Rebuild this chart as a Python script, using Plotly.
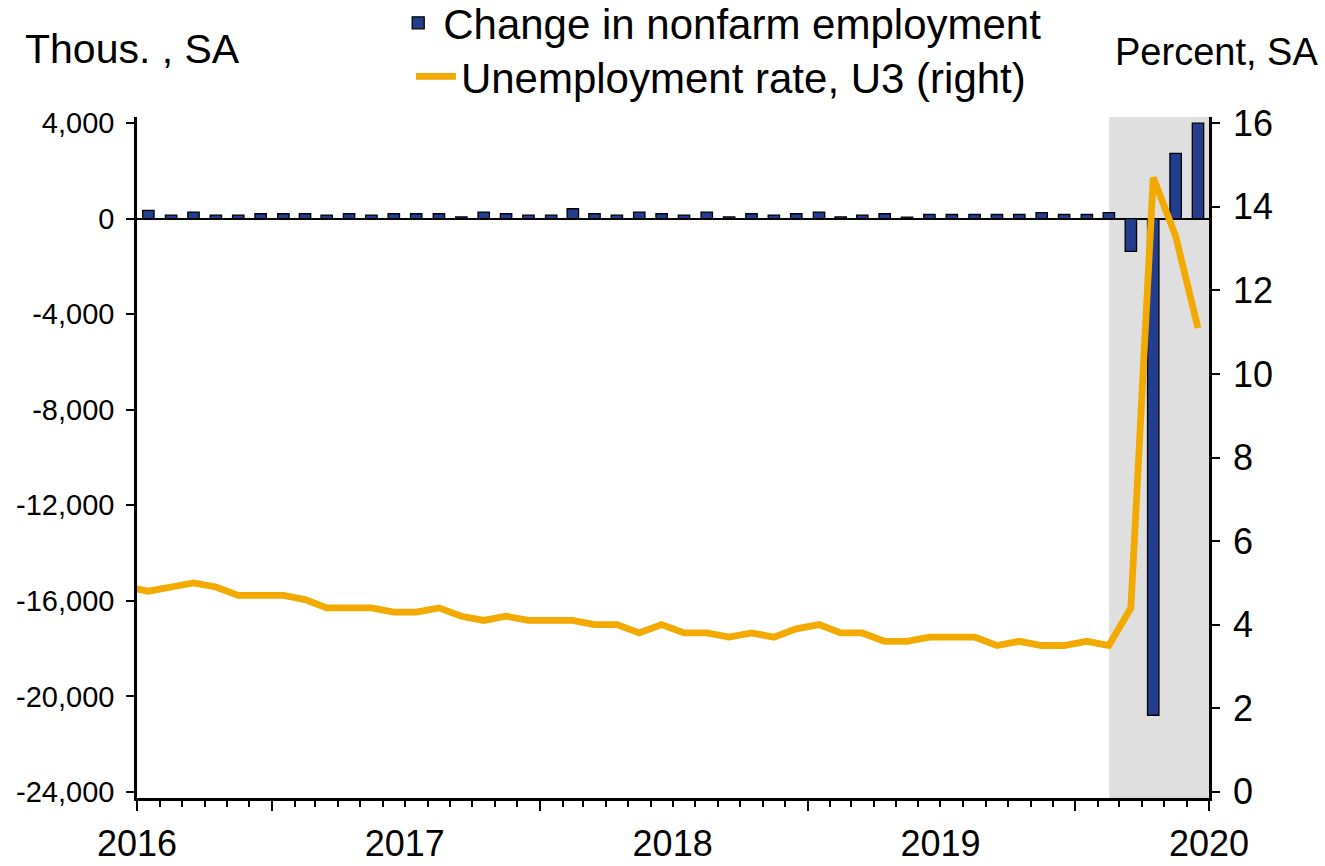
import plotly.graph_objects as go
import pandas as pd

# ---------------- data ----------------
bar_months = [d.strftime("%Y-%m") for d in pd.date_range("2016-07-01", "2020-06-01", freq="MS")]
payroll_change = [340, 145, 270, 145, 145, 200, 200, 200, 145, 200, 145, 200,
                  200, 200, 70, 270, 200, 145, 145, 410, 200, 145, 270, 200,
                  145, 270, 70, 200, 145, 200, 270, 70, 145, 200, 60, 170,
                  170, 170, 170, 170, 250, 170, 170, 250, -1373, -20787, 2725, 3990]

rate_months = [d.strftime("%Y-%m") for d in pd.date_range("2016-06-01", "2020-06-01", freq="MS")]
unemployment_rate = [4.9,
                     4.8, 4.9, 5.0, 4.9, 4.7, 4.7,
                     4.7, 4.6, 4.4, 4.4, 4.4, 4.3, 4.3, 4.4, 4.2, 4.1, 4.2, 4.1,
                     4.1, 4.1, 4.0, 4.0, 3.8, 4.0, 3.8, 3.8, 3.7, 3.8, 3.7, 3.9,
                     4.0, 3.8, 3.8, 3.6, 3.6, 3.7, 3.7, 3.7, 3.5, 3.6, 3.5, 3.5,
                     3.6, 3.5, 4.4, 14.7, 13.3, 11.1]

x_range = ["2016-07-01", "2020-07-01"]
year_label_dates = ["2016-07-01", "2017-07-01", "2018-07-01", "2019-07-01", "2020-07-01"]
year_labels = ["2016", "2017", "2018", "2019", "2020"]
major_tick_dates = ["2016-07-01", "2017-01-01", "2018-01-01", "2019-01-01", "2020-01-01", "2020-07-01"]

left_tick_vals = [-24000, -20000, -16000, -12000, -8000, -4000, 0, 4000]
left_tick_text = ["-24,000", "-20,000", "-16,000", "-12,000", "-8,000", "-4,000", "0", "4,000"]
right_tick_vals = [0, 2, 4, 6, 8, 10, 12, 14, 16]
right_tick_text = ["0", "2", "4", "6", "8", "10", "12", "14", "16"]

recession_start = "2020-02-16"
recession_end = "2020-07-01"

# ---------------- figure ----------------
FONT = "Liberation Sans, Arial, sans-serif"
BAR_COLOR = "#233E8E"
LINE_COLOR = "#F2AA00"

fig = go.Figure()

fig.add_trace(go.Bar(
    x=bar_months, y=payroll_change,
    xperiod="M1", xperiodalignment="middle",
    name="Change in nonfarm employment",
    marker=dict(color=BAR_COLOR, line=dict(color="black", width=1.3)),
    width=15.5 * 86400000,
    legend="legend",
    xaxis="x", yaxis="y",
))

fig.add_trace(go.Scatter(
    x=rate_months, y=unemployment_rate,
    xperiod="M1", xperiodalignment="middle",
    mode="lines",
    name="Unemployment rate, U3 (right)",
    line=dict(color=LINE_COLOR, width=6.8),
    legend="legend2",
    xaxis="x2", yaxis="y2",
))

fig.add_vrect(x0=recession_start, x1=recession_end, fillcolor="#DFDFDF",
              line_width=0, layer="below")

axis_common = dict(showgrid=False, linecolor="black", linewidth=2.5,
                   tickcolor="black", tickwidth=1.5)

fig.update_layout(
    width=1325, height=866,
    margin=dict(l=137, r=116, t=117, b=68, autoexpand=False),
    paper_bgcolor="white", plot_bgcolor="white",
    font=dict(family=FONT, color="black"),
    bargap=0.5,
    xaxis=dict(
        type="date", range=x_range, showline=True, mirror=False,
        tickmode="array", tickvals=year_label_dates, ticktext=year_labels,
        ticks="outside", ticklen=1, tickcolor="rgba(0,0,0,0)",
        tickfont=dict(size=36), ticklabelstandoff=11,
        minor=dict(ticks="outside", ticklen=6, tickwidth=1.5, tickcolor="black",
                   dtick="M1", tick0="2016-07-01", showgrid=False),
        showgrid=False, linecolor="black", linewidth=2.5, zeroline=False,
    ),
    xaxis2=dict(
        type="date", range=x_range, overlaying="x", anchor="y", side="bottom",
        tickmode="array", tickvals=major_tick_dates, showticklabels=False,
        ticks="outside", ticklen=12, tickwidth=1.5, tickcolor="black",
        showline=False, showgrid=False, zeroline=False,
    ),
    yaxis=dict(
        range=[-24250, 4250], showline=True,
        tickmode="array", tickvals=left_tick_vals, ticktext=left_tick_text,
        ticks="outside", ticklen=8, tickfont=dict(size=29), ticklabelstandoff=6,
        zeroline=True, zerolinecolor="black", zerolinewidth=1.5,
        **axis_common,
    ),
    yaxis2=dict(
        range=[-0.15, 16.15], overlaying="y", side="right", anchor="x",
        showline=True,
        tickmode="array", tickvals=right_tick_vals, ticktext=right_tick_text,
        ticks="outside", ticklen=8, tickfont=dict(size=36), ticklabelstandoff=6,
        zeroline=False,
        **axis_common,
    ),
    legend=dict(x=0.239, y=1.138, xanchor="left", yanchor="middle",
                font=dict(size=42), bgcolor="rgba(0,0,0,0)", itemwidth=40),
    legend2=dict(x=0.2555, y=1.0595, xanchor="left", yanchor="middle",
                 font=dict(size=42), bgcolor="rgba(0,0,0,0)", itemwidth=40),
    showlegend=True,
    annotations=[
        dict(text="Thous. , SA", xref="paper", yref="paper",
             x=-0.1065, y=1.1, xanchor="left", yanchor="middle",
             showarrow=False, font=dict(size=41)),
        dict(text="Percent, SA", xref="paper", yref="paper",
             x=1.1035, y=1.0954, xanchor="right", yanchor="middle",
             showarrow=False, font=dict(size=38)),
    ],
)

fig.write_html("out.html", config={"displayModeBar": False},
               post_script="document.body.style.margin='0';")
